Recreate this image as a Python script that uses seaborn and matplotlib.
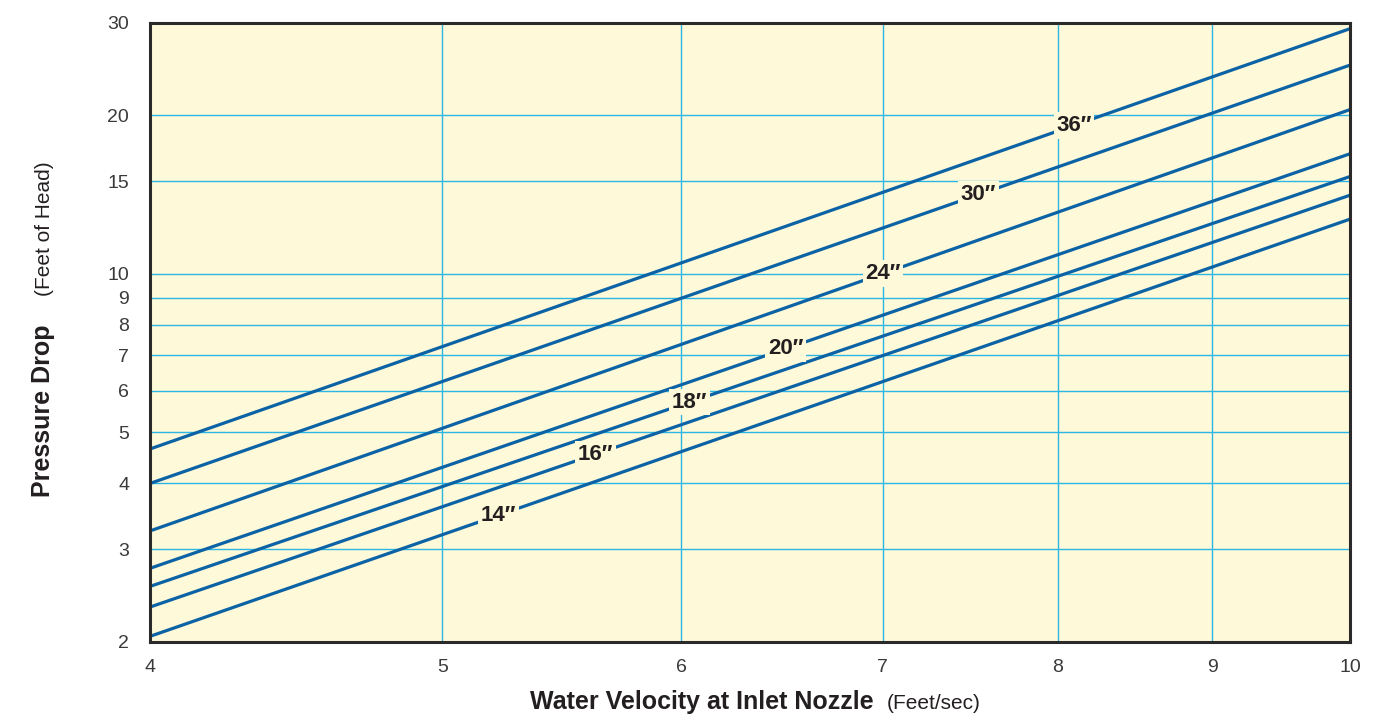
import matplotlib
matplotlib.use("Agg")
import matplotlib.pyplot as plt
from matplotlib.ticker import FixedLocator, FixedFormatter, NullLocator
import numpy as np
import pandas as pd
import seaborn as sns

# ---- data ----
sizes = ["14″", "16″", "18″", "20″", "24″", "30″", "36″"]
velocity_ends = [4, 10]
drop_at_4 = [2.05, 2.33, 2.55, 2.76, 3.25, 4.0, 4.65]
drop_at_10 = [12.7, 14.1, 15.3, 16.9, 20.5, 24.9, 29.2]
label_velocity = [5.22, 5.62, 6.04, 6.5, 7.0, 7.53, 8.1]
x_ticks = [4, 5, 6, 7, 8, 9, 10]
y_ticks = [2, 3, 4, 5, 6, 7, 8, 9, 10, 15, 20, 30]

rows = []
for s, a, b in zip(sizes, drop_at_4, drop_at_10):
    rows.append({"size": s, "velocity": velocity_ends[0], "drop": a})
    rows.append({"size": s, "velocity": velocity_ends[1], "drop": b})
df = pd.DataFrame(rows)

# ---- style ----
sns.set_style("white")
plt.rcParams["font.family"] = ["Liberation Sans", "DejaVu Sans"]

BG = "#FEF9D8"
LINE = "#0B63A5"
GRID = "#2BB6E6"
TXT = "#231F20"

fig = plt.figure(figsize=(13.88, 7.2), dpi=100)
ax = fig.add_axes([150 / 1388, 78 / 720, 1200 / 1388, 619.5 / 720])
ax.set_facecolor(BG)

ax.set_xscale("log")
ax.set_yscale("log")

sns.lineplot(data=df, x="velocity", y="drop", hue="size", hue_order=sizes,
             palette=[LINE] * len(sizes), legend=False, linewidth=2.3, ax=ax,
             zorder=3)

ax.set_xlim(4, 10)
ax.set_ylim(2, 30)

ax.xaxis.set_major_locator(FixedLocator(x_ticks))
ax.xaxis.set_major_formatter(FixedFormatter([str(v) for v in x_ticks]))
ax.xaxis.set_minor_locator(NullLocator())
ax.yaxis.set_major_locator(FixedLocator(y_ticks))
ax.yaxis.set_major_formatter(FixedFormatter([str(v) for v in y_ticks]))
ax.yaxis.set_minor_locator(NullLocator())

ax.grid(True, which="major", color=GRID, linewidth=1.0, zorder=1)
ax.set_axisbelow(True)
ax.tick_params(axis="both", length=0, labelsize=14, labelcolor="#3a3a3a")
ax.tick_params(axis="x", pad=12)
ax.tick_params(axis="y", pad=15)

for sp in ax.spines.values():
    sp.set_visible(True)
    sp.set_color("#2a2a2a")
    sp.set_linewidth(2.2)
    sp.set_zorder(5)

ax.set_xlabel("")
ax.set_ylabel("")

# line labels placed on each line
for s, a, b, xv in zip(sizes, drop_at_4, drop_at_10, label_velocity):
    t = (np.log(xv) - np.log(velocity_ends[0])) / (np.log(velocity_ends[1]) - np.log(velocity_ends[0]))
    yv = np.exp(np.log(a) + t * (np.log(b) - np.log(a)))
    ax.text(xv, yv, s, ha="center", va="center", fontsize=16, fontweight="bold",
            color=TXT, zorder=4,
            bbox=dict(boxstyle="square,pad=0.12", facecolor=BG, edgecolor="none"))

# axis titles
fig.text(874 / 1388, 1 - 709 / 720, "Water Velocity at Inlet Nozzle", ha="right",
         va="baseline", fontsize=18, fontweight="bold", color=TXT)
fig.text(887 / 1388, 1 - 709 / 720, "(Feet/sec)", ha="left", va="baseline",
         fontsize=15, color=TXT)
fig.text(50 / 1388, 1 - 497 / 720, "Pressure Drop", rotation=90,
         rotation_mode="anchor", ha="left", va="baseline", fontsize=18,
         fontweight="bold", color=TXT)
fig.text(50 / 1388, 1 - 296 / 720, "(Feet of Head)", rotation=90,
         rotation_mode="anchor", ha="left", va="baseline", fontsize=15,
         color=TXT)

fig.savefig("out.png", dpi=100, facecolor="white")
